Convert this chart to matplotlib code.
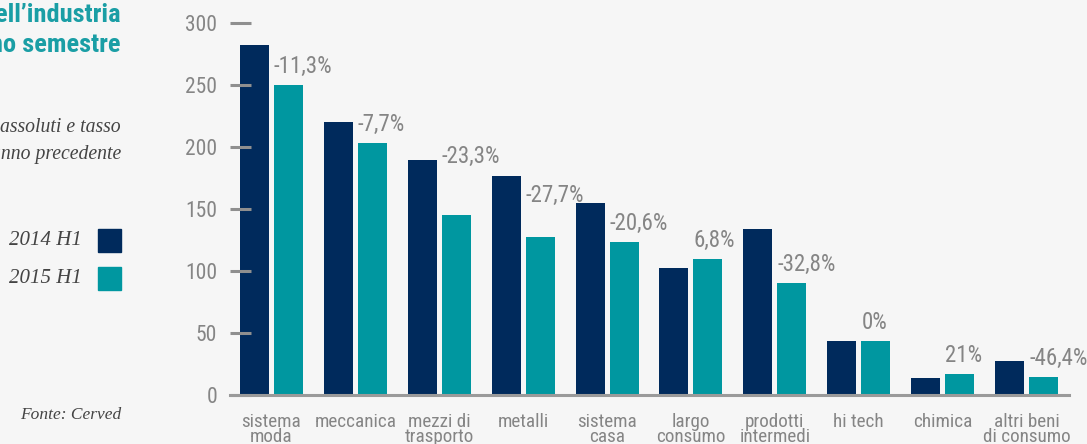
import matplotlib
matplotlib.use('Agg')
import matplotlib.pyplot as plt
from matplotlib import font_manager as fm
import numpy as np

# fatturato per settore, primo semestre 2014 e 2015
settori = ['sistema\nmoda', 'meccanica', 'mezzi di\ntrasporto', 'metalli', 'sistema\ncasa',
           'largo\nconsumo', 'prodotti\nintermedi', 'hi tech', 'chimica', 'altri beni\ndi consumo']
valori_2014 = [282, 220, 189.5, 176.5, 155, 102.5, 134, 43.5, 13.8, 27.4]
valori_2015 = [250, 203, 145.3, 127.6, 123, 109.5, 90, 43.5, 16.7, 14.7]
variazioni = ['-11,3%', '-7,7%', '-23,3%', '-27,7%', '-20,6%', '6,8%', '-32,8%', '0%', '21%', '-46,4%']
tick_y = [0, 50, 100, 150, 200, 250, 300]

# spostamento verticale extra delle etichette che altrimenti toccano le barre 2014
alzo_etichette = [0, 0, 32, 18, 0, 0, 0, 0, 0, 0]

def scegli_font(nomi):
    for n in nomi:
        try:
            fm.findfont(fm.FontProperties(family=n), fallback_to_default=False)
            return n
        except Exception:
            pass
    return 'DejaVu Sans'

sans = scegli_font(['Liberation Sans Narrow', 'Roboto Condensed', 'Liberation Sans'])
serif = scegli_font(['Liberation Serif', 'DejaVu Serif'])

blu = '#002a5c'
verde = '#0097a0'
grigio = '#858585'
sfondo = '#f6f6f6'

fig = plt.figure(figsize=(10.87, 4.44), dpi=100, facecolor=sfondo)
ax = fig.add_axes([229.5 / 1087, 49 / 444, 839 / 1087, 372.3 / 444])
ax.set_facecolor(sfondo)

x = np.arange(len(settori))
w = 0.345
d = 0.2026
ax.bar(x - d, valori_2014, w, color=blu)
ax.bar(x + d, valori_2015, w, color=verde)

for i, lab in enumerate(variazioni):
    ax.text(x[i] + d - w / 2, valori_2015[i] + 15 + alzo_etichette[i], lab,
            ha='left', va='center', fontsize=16.5, color=grigio, family=sans)

ax.set_xlim(-0.5, 9.5)
ax.set_ylim(0, 300)
for s in ['top', 'right', 'left']:
    ax.spines[s].set_visible(False)
ax.spines['bottom'].set_color('#9a9a9a')
ax.spines['bottom'].set_linewidth(2.2)

ax.set_yticks(tick_y)
ax.set_yticklabels([str(t) for t in tick_y], family=sans, fontsize=15.5, color=grigio)
ax.tick_params(axis='y', direction='in', length=15, width=2.2, color='#8f8f8f', pad=9)
ax.set_xticks(x)
ax.set_xticklabels(settori, family=sans, fontsize=13.8, color=grigio, linespacing=0.8)
ax.tick_params(axis='x', length=0, pad=13)

# colonna di testo a sinistra
fig.text(121 / 1087, 1 - 15 / 444, 'ell\u2019industria', ha='right', va='center',
         fontsize=19, fontweight='bold', color='#1a9ea5', family=sans)
fig.text(121 / 1087, 1 - 45 / 444, 'no semestre', ha='right', va='center',
         fontsize=19, fontweight='bold', color='#1a9ea5', family=sans)
fig.text(121 / 1087, 1 - 127 / 444, 'assoluti e tasso', ha='right', va='center',
         fontsize=14.2, style='italic', color='#444444', family=serif)
fig.text(121 / 1087, 1 - 154 / 444, 'anno precedente', ha='right', va='center',
         fontsize=14.2, style='italic', color='#444444', family=serif)
fig.text(82 / 1087, 1 - 240 / 444, '2014 H1', ha='right', va='center',
         fontsize=15, style='italic', color='#444444', family=serif)
fig.text(82 / 1087, 1 - 278 / 444, '2015 H1', ha='right', va='center',
         fontsize=15, style='italic', color='#444444', family=serif)
fig.patches.append(plt.Rectangle((98 / 1087, 1 - 252 / 444), 23 / 1087, 23 / 444,
                                 transform=fig.transFigure, color=blu))
fig.patches.append(plt.Rectangle((98 / 1087, 1 - 290 / 444), 23 / 1087, 23 / 444,
                                 transform=fig.transFigure, color=verde))
fig.text(121 / 1087, 1 - 415 / 444, 'Fonte: Cerved', ha='right', va='center',
         fontsize=12.5, style='italic', color='#444444', family=serif)

fig.savefig('out.png', dpi=100, facecolor=sfondo)
